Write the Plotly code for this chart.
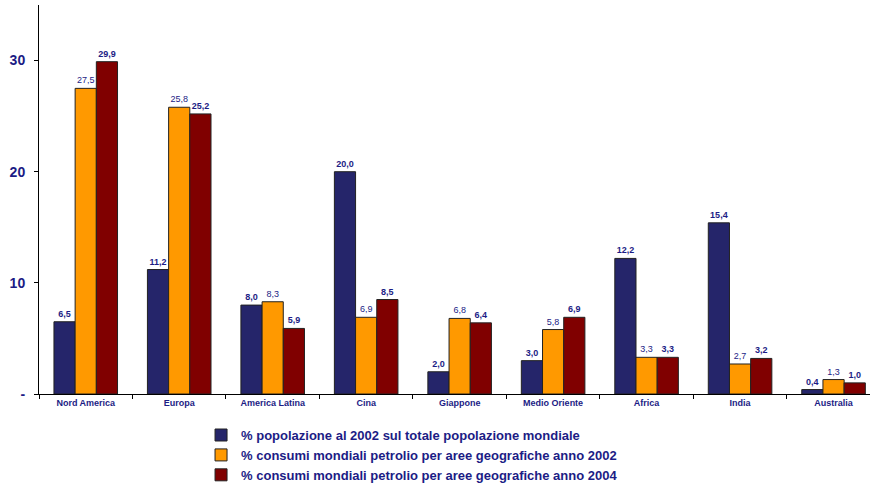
import plotly.graph_objects as go

categories = ["Nord America", "Europa", "America Latina", "Cina", "Giappone",
              "Medio Oriente", "Africa", "India", "Australia"]
pop_2002 = [6.5, 11.2, 8.0, 20.0, 2.0, 3.0, 12.2, 15.4, 0.4]
oil_2002 = [27.5, 25.8, 8.3, 6.9, 6.8, 5.8, 3.3, 2.7, 1.3]
oil_2004 = [29.9, 25.2, 5.9, 8.5, 6.4, 6.9, 3.3, 3.2, 1.0]
series_names = [
    "% popolazione al 2002 sul totale popolazione mondiale",
    "% consumi mondiali petrolio per aree geografiche anno 2002",
    "% consumi mondiali petrolio per aree geografiche anno 2004",
]
ytick_vals = [0, 10, 20, 30]
ytick_text = ["-", "10", "20", "30"]

NAVY = "#1c1c85"
FONT = "Liberation Sans, Arial, sans-serif"

def fmt(v, bold):
    s = f"{v:.1f}".replace(".", ",")
    return f"<b>{s}</b>" if bold else s

fig = go.Figure()
specs = [
    (pop_2002, "#25256a", True),
    (oil_2002, "#ff9900", False),
    (oil_2004, "#800000", True),
]
for vals, color, bold in specs:
    fig.add_trace(go.Bar(
        x=categories, y=vals, name=series_names[len(fig.data)],
        marker=dict(color=color, line=dict(color="#222222", width=1)),
        text=[fmt(v, bold) for v in vals], textposition="outside",
        textfont=dict(family=FONT, size=9, color=NAVY),
        cliponaxis=False,
    ))

fig.update_layout(
    width=870, height=488,
    margin=dict(l=39, r=0, t=5, b=94, autoexpand=False),
    paper_bgcolor="white", plot_bgcolor="white",
    barmode="group", bargap=0.32, bargroupgap=0,
    font=dict(family=FONT, color=NAVY),
    showlegend=True,
    legend=dict(
        x=0.195, y=-0.067, xanchor="left", yanchor="top",
        font=dict(family=FONT, size=13, color=NAVY, weight="bold"),
        bgcolor="rgba(0,0,0,0)", itemwidth=30,
    ),
    xaxis=dict(
        range=[-0.5, 8.39], showline=True, linecolor="black", linewidth=1,
        ticks="outside", tickson="boundaries", ticklen=4, tickcolor="black",
        tickfont=dict(family=FONT, size=9, color=NAVY, weight="bold"),
        showgrid=False,
    ),
    yaxis=dict(
        range=[0, 35], showline=True, linecolor="black", linewidth=1,
        ticks="outside", ticklen=4, tickcolor="black",
        tickvals=ytick_vals, ticktext=ytick_text, ticklabelstandoff=6,
        tickfont=dict(family=FONT, size=14, color=NAVY, weight="bold"),
        showgrid=False, zeroline=False,
    ),
)
fig.write_html("out.html", config={"displayModeBar": False},
               post_script="document.body.style.margin='0';document.body.style.padding='0';")
